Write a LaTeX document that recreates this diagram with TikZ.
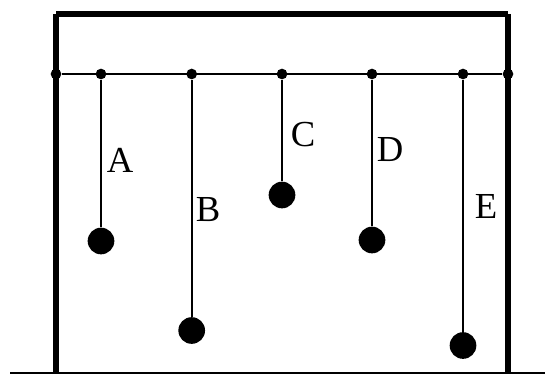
\documentclass[tikz,border=0pt]{standalone}
\usepackage{fontspec}
\setmainfont{Liberation Serif}
\tikzset{
 px/.style={x=0.75pt,y=-0.75pt},
 frame/.style={line width=4.1pt,line cap=butt},
 thin line/.style={line width=1.4pt},
 joint/.style={circle,fill=black,inner sep=0pt,minimum size=8pt},
 bob/.style={circle,fill=black,inner sep=0pt,minimum size=20pt},
 lab/.style={font=\fontsize{27.5pt}{27.5pt}\selectfont,inner sep=0pt,anchor=center}
}
\begin{document}
\begin{tikzpicture}[px]
\useasboundingbox (0,0) rectangle (545,374);
\coordinate (tl) at (56,14);
\coordinate (tr) at (508,14);
\coordinate (fl) at (56,372);
\coordinate (fr) at (508,372);
\coordinate (g1) at (10,372.7);
\coordinate (g2) at (545,372.7);
\draw[frame] (tl) -- (fl);
\draw[frame] (tl) -- (tr);
\draw[frame] (tr) -- (fr);
\draw[thin line] (g1) -- (g2);
\node[joint] (j0) at (56,74) {};
\node[joint] (ja) at (101,74) {};
\node[joint] (jb) at (191.7,74) {};
\node[joint] (jc) at (282,74) {};
\node[joint] (jd) at (372,74) {};
\node[joint] (je) at (463,74) {};
\node[joint] (j6) at (508,74) {};
\draw[thin line] (j0) -- (j6);
\node[bob] (ba) at (101,241) {};
\node[bob] (bb) at (191.7,330.5) {};
\node[bob] (bc) at (282,195) {};
\node[bob] (bd) at (372,240) {};
\node[bob] (be) at (463,345.5) {};
\draw[thin line] (ja) -- (ba);
\draw[thin line] (jb) -- (bb);
\draw[thin line] (jc) -- (bc);
\draw[thin line] (jd) -- (bd);
\draw[thin line] (je) -- (be);
\node[lab] (la) at (120,160) {A};
\node[lab] (lb) at (208,209.5) {B};
\node[lab] (lc) at (303,135) {C};
\node[lab] (ld) at (390,150) {D};
\node[lab] (le) at (486,206) {E};
\end{tikzpicture}
\end{document}
